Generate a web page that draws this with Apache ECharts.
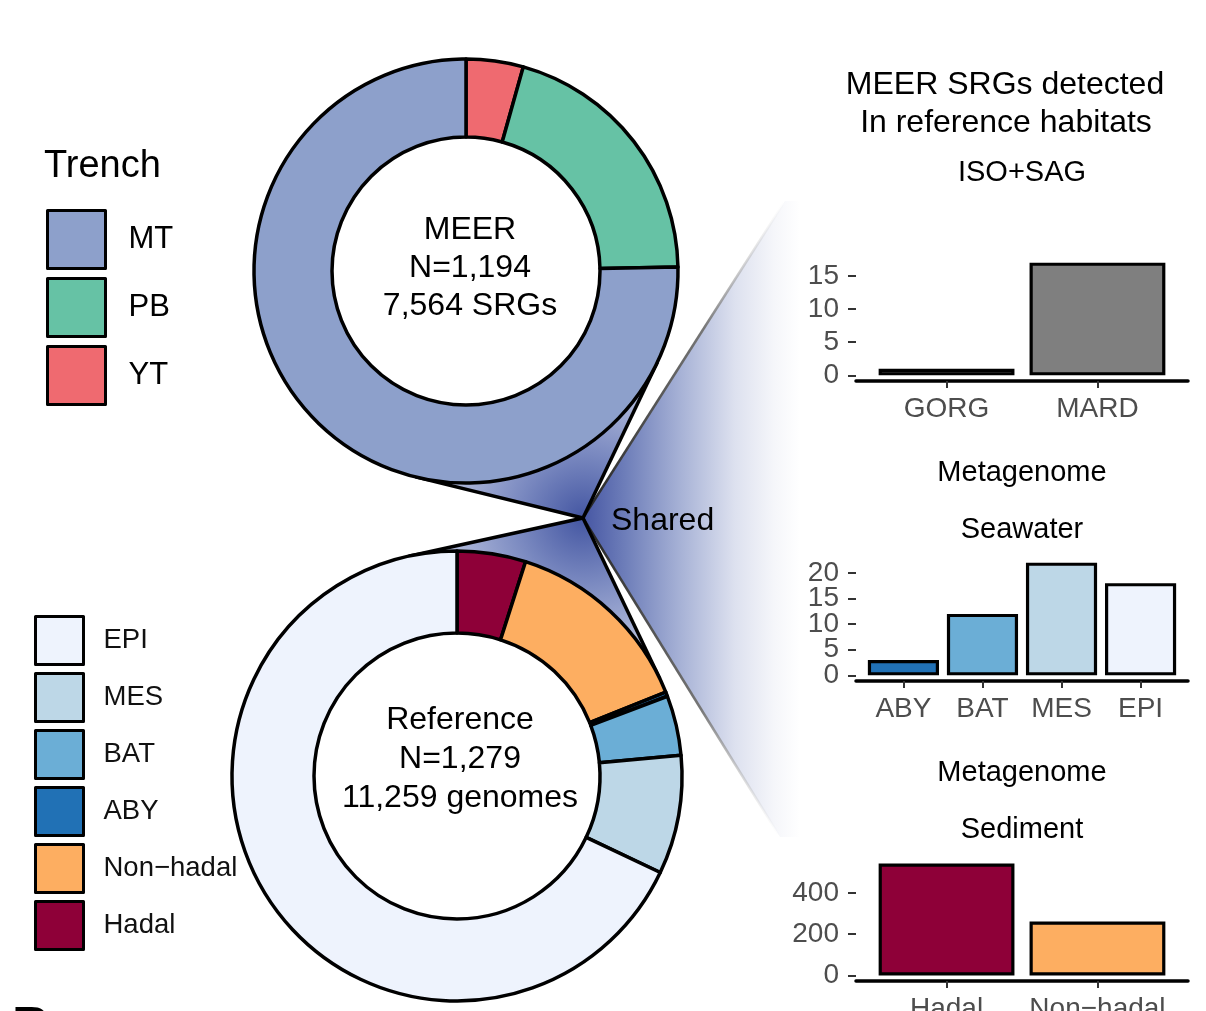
<!DOCTYPE html>
<html><head><meta charset="utf-8">
<script src="https://cdn.jsdelivr.net/npm/echarts@6/dist/echarts.min.js"></script>
<style>html,body{margin:0;padding:0;background:#fff}#c{width:1206px;height:1011px}</style>
</head><body><div id="c"></div>
<script>
// ---------- data ----------
const trenchCats = ['YT', 'PB', 'MT'];
const trenchVals = [52, 243, 899];
const habitatCats = ['Hadal', 'Non−hadal', 'ABY', 'BAT', 'MES', 'EPI'];
const habitatVals = [63, 179, 4, 55, 109, 869];
const isoCats = ['GORG', 'MARD'];
const isoVals = [1, 17];
const isoTicks = [0, 5, 10, 15];
const seaCats = ['ABY', 'BAT', 'MES', 'EPI'];
const seaVals = [3, 12, 22, 18];
const seaTicks = [0, 5, 10, 15, 20];
const sedCats = ['Hadal', 'Non−hadal'];
const sedVals = [543, 262];
const sedTicks = [0, 200, 400];
const trenchLegend = ['MT', 'PB', 'YT'];
const habitatLegend = ['EPI', 'MES', 'BAT', 'ABY', 'Non−hadal', 'Hadal'];
const colors = {
  MT: '#8da0cb', PB: '#66c2a5', YT: '#ef6a70',
  EPI: '#eef3fd', MES: '#bdd7e7', BAT: '#6baed6', ABY: '#2171b5',
  'Non−hadal': '#fdae61', Hadal: '#8e0038', GORG: '#7f7f7f', MARD: '#7f7f7f'
};

// ---------- layout ----------
const FONT = '"Liberation Sans", Arial, Helvetica, sans-serif';
const topC = [466, 271], topR = [134, 212];
const botC = [457, 776], botR = [143, 225];
const apex = [583, 518];
const fanU = [785, 201], fanL = [780, 837];

function tangents(c, r, p) {
  const dx = p[0] - c[0], dy = p[1] - c[1];
  const d = Math.hypot(dx, dy);
  const base = Math.atan2(dy, dx);
  const a = Math.acos(r / d);
  return [base - a, base + a].map(t => [c[0] + r * Math.cos(t), c[1] + r * Math.sin(t)]);
}
const tT = tangents(topC, topR[1], apex);
const tB = tangents(botC, botR[1], apex);

const G = echarts.graphic;
function funnelFill() {
  return new G.RadialGradient(apex[0], apex[1], 260, [
    { offset: 0, color: '#4456a2' },
    { offset: 0.25, color: '#7a89c0' },
    { offset: 0.6, color: '#c3cbe4' },
    { offset: 1, color: '#eef0f8' }
  ], true);
}
const fanFill = new G.LinearGradient(apex[0], 0, 800, 0, [
  { offset: 0, color: '#4656a3' },
  { offset: 0.2, color: '#6f7fba' },
  { offset: 0.45, color: '#a7b2d6' },
  { offset: 0.7, color: '#dde1ef' },
  { offset: 0.88, color: '#f5f6fa' },
  { offset: 1, color: '#ffffff' }
], true);
function edgeStroke(end) {
  return new G.LinearGradient(apex[0], apex[1], end[0], end[1], [
    { offset: 0, color: '#222' },
    { offset: 0.6, color: '#777' },
    { offset: 1, color: 'rgba(220,220,220,0)' }
  ], true);
}

function txt(text, x, y, size, opts) {
  opts = opts || {};
  return {
    type: 'text', x: x, y: y, z: 20, silent: true,
    style: {
      text: text, font: (opts.weight || 'normal') + ' ' + size + 'px ' + FONT,
      fill: opts.fill || '#000',
      align: opts.align || 'center', textAlign: opts.align || 'center',
      verticalAlign: opts.va || 'middle', textVerticalAlign: opts.va || 'middle',
      lineHeight: opts.lh || size * 1.2
    }
  };
}

// ---------- axes ----------
function mkX(gi, cats) {
  const pos = cats.map((c, i) => i + 1);
  return {
    type: 'value', gridIndex: gi, min: 0.4, max: cats.length + 0.6,
    splitLine: { show: false },
    axisLine: { show: true, onZero: false, lineStyle: { color: '#000', width: 3.5 } },
    axisTick: { show: true, customValues: pos, length: 7, lineStyle: { color: '#333', width: 2 } },
    axisLabel: {
      customValues: pos, formatter: v => cats[Math.round(v) - 1] || '',
      showMinLabel: true, showMaxLabel: true, hideOverlap: false,
      fontSize: 28, color: '#4d4d4d', margin: 14, fontFamily: FONT
    }
  };
}
// two overlaid y axes per panel (alternate ticks) so tightly packed labels are all kept
function mkY(gi, vals, ticks, parity) {
  const m = Math.max.apply(null, vals);
  const tv = ticks.filter((t, i) => i % 2 === parity);
  return {
    type: 'value', gridIndex: gi, min: -0.05 * m, max: 1.05 * m, position: 'left', offset: 0,
    splitLine: { show: false },
    axisLine: { show: false },
    axisTick: { show: true, customValues: tv, length: 8, lineStyle: { color: '#333', width: 2 } },
    axisLabel: {
      customValues: tv, showMinLabel: true, showMaxLabel: true, hideOverlap: false,
      fontSize: 28, color: '#4d4d4d', margin: 17, fontFamily: FONT
    }
  };
}
const plotW = 332;
function mkBar(gi, cats, vals) {
  return {
    type: 'bar', xAxisIndex: gi, yAxisIndex: gi * 2, silent: true,
    barWidth: 0.9 * plotW / (cats.length + 0.2),
    itemStyle: { borderColor: '#000', borderWidth: 3.2 },
    data: cats.map((c, i) => ({ value: [i + 1, vals[i]], itemStyle: { color: colors[c] } }))
  };
}
function mkPie(center, radius, cats, vals) {
  return {
    type: 'pie', center: center, radius: radius, startAngle: 90, clockwise: true,
    silent: true, z: 2, avoidLabelOverlap: false,
    label: { show: false }, labelLine: { show: false },
    itemStyle: { borderColor: '#000', borderWidth: 3.5 },
    data: cats.map((c, i) => ({ name: c, value: vals[i], itemStyle: { color: colors[c] } }))
  };
}
function mkGrid(top, height) {
  return { left: 856, top: top, width: plotW, height: height, containLabel: false, outerBoundsMode: 'none' };
}

const chart = echarts.init(document.getElementById('c'));
chart.setOption({
  animation: false,
  backgroundColor: '#fff',
  legend: [
    {
      orient: 'vertical', left: 46, top: 209, padding: 0, itemWidth: 58, itemHeight: 58, itemGap: 7,
      icon: 'rect', selectedMode: false, data: trenchLegend,
      itemStyle: { borderColor: '#000', borderWidth: 3 },
      textStyle: { fontSize: 31, fontFamily: FONT, color: '#000', padding: [0, 0, 0, 18] }
    },
    {
      orient: 'vertical', left: 34, top: 615, padding: 0, itemWidth: 48, itemHeight: 48, itemGap: 6,
      icon: 'rect', selectedMode: false, data: habitatLegend,
      itemStyle: { borderColor: '#000', borderWidth: 3 },
      textStyle: { fontSize: 27.5, fontFamily: FONT, color: '#111', padding: [0, 0, 0, 15] }
    }
  ],
  grid: [mkGrid(257, 124), mkGrid(557, 124), mkGrid(858, 123)],
  xAxis: [mkX(0, isoCats), mkX(1, seaCats), mkX(2, sedCats)],
  yAxis: [
    mkY(0, isoVals, isoTicks, 0), mkY(0, isoVals, isoTicks, 1),
    mkY(1, seaVals, seaTicks, 0), mkY(1, seaVals, seaTicks, 1),
    mkY(2, sedVals, sedTicks, 0), mkY(2, sedVals, sedTicks, 1)
  ],
  series: [
    mkPie(topC, topR, trenchCats, trenchVals),
    mkPie(botC, botR, habitatCats, habitatVals),
    mkBar(0, isoCats, isoVals),
    mkBar(1, seaCats, seaVals),
    mkBar(2, sedCats, sedVals)
  ],
  graphic: {
    elements: [
      { type: 'polygon', z: 0, silent: true, shape: { points: [apex, fanU, [805, fanU[1]], [805, fanL[1]], fanL] }, style: { fill: fanFill } },
      { type: 'polygon', z: 1, silent: true, shape: { points: [apex, tT[0], tT[1]] }, style: { fill: funnelFill() } },
      { type: 'polygon', z: 1, silent: true, shape: { points: [apex, tB[0], tB[1]] }, style: { fill: funnelFill() } },
      { type: 'line', z: 1, silent: true, shape: { x1: apex[0], y1: apex[1], x2: fanU[0], y2: fanU[1] }, style: { stroke: edgeStroke(fanU), lineWidth: 2.5 } },
      { type: 'line', z: 1, silent: true, shape: { x1: apex[0], y1: apex[1], x2: fanL[0], y2: fanL[1] }, style: { stroke: edgeStroke(fanL), lineWidth: 2.5 } },
      { type: 'line', z: 1, silent: true, shape: { x1: apex[0], y1: apex[1], x2: tT[0][0], y2: tT[0][1] }, style: { stroke: '#000', lineWidth: 3.5 } },
      { type: 'line', z: 1, silent: true, shape: { x1: apex[0], y1: apex[1], x2: tT[1][0], y2: tT[1][1] }, style: { stroke: '#000', lineWidth: 3.5 } },
      { type: 'line', z: 1, silent: true, shape: { x1: apex[0], y1: apex[1], x2: tB[0][0], y2: tB[0][1] }, style: { stroke: '#000', lineWidth: 3.5 } },
      { type: 'line', z: 1, silent: true, shape: { x1: apex[0], y1: apex[1], x2: tB[1][0], y2: tB[1][1] }, style: { stroke: '#000', lineWidth: 3.5 } },
      txt('MEER\nN=1,194\n7,564 SRGs', 470, 268, 32, { lh: 38 }),
      txt('Reference\nN=1,279\n11,259 genomes', 460, 759, 32, { lh: 39 }),
      txt('Shared', 611, 521, 32, { align: 'left' }),
      txt('Trench', 44, 167, 38, { align: 'left' }),
      txt('MEER SRGs detected', 1005, 85, 32),
      txt('In reference habitats', 1006, 123, 32),
      txt('ISO+SAG', 1022, 173, 29),
      txt('Metagenome', 1022, 473, 29),
      txt('Seawater', 1022, 530, 29),
      txt('Metagenome', 1022, 773, 29),
      txt('Sediment', 1022, 830, 29),
      txt('B', 12, 1003, 52, { align: 'left', va: 'top', weight: 'bold', lh: 52 })
    ]
  }
});
</script>
</body></html>
